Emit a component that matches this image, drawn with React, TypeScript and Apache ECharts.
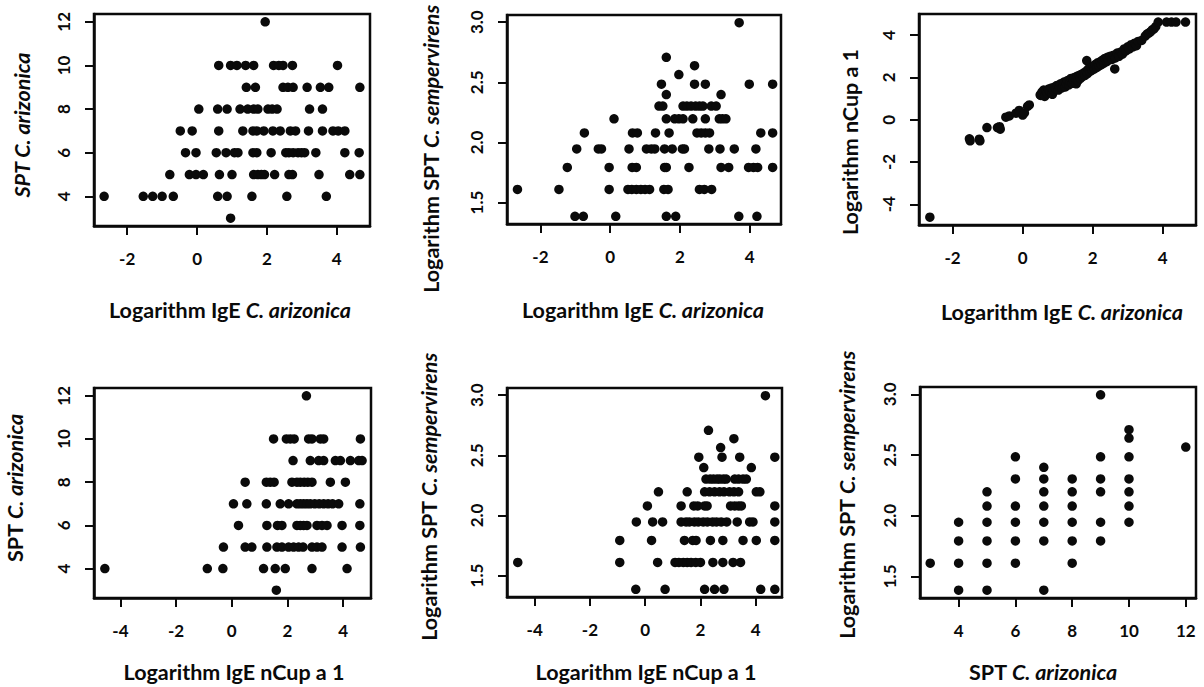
import React, { useEffect, useRef } from "react";
import * as echarts from "echarts";

const FONT = 'Lato, "Open Sans", "DejaVu Sans", sans-serif';

// Panel 1: x = Logarithm IgE C. arizonica, y = SPT C. arizonica
const igeArizVsSptAriz: [number, number][] = [
  [1.95, 12],
  [0.62, 10], [0.96, 10], [1.14, 10], [1.39, 10], [1.62, 10], [2.19, 10], [2.34, 10], [2.46, 10], [2.73, 10], [4.02, 10],
  [1.41, 9], [1.67, 9], [2.46, 9], [2.6, 9], [2.75, 9], [3.15, 9], [3.53, 9], [3.77, 9], [4.66, 9],
  [0.05, 8], [0.59, 8], [0.86, 8], [1.23, 8], [1.45, 8], [1.62, 8], [1.74, 8], [2.03, 8], [2.15, 8], [2.29, 8], [3.22, 8], [3.59, 8],
  [-0.48, 7], [-0.14, 7], [0.62, 7], [1.31, 7], [1.6, 7], [1.71, 7], [1.91, 7], [2.17, 7], [2.38, 7], [2.67, 7], [2.82, 7], [3.19, 7], [3.59, 7], [3.89, 7], [4.04, 7], [4.23, 7],
  [-0.33, 6], [-0.03, 6], [0.55, 6], [0.83, 6], [1.07, 6], [1.17, 6], [1.6, 6], [1.71, 6], [2.12, 6], [2.54, 6], [2.63, 6], [2.75, 6], [2.89, 6], [2.99, 6], [3.08, 6], [3.4, 6], [4.23, 6], [4.64, 6],
  [-0.78, 5], [-0.22, 5], [-0.03, 5], [0.18, 5], [0.64, 5], [1.0, 5], [1.62, 5], [1.74, 5], [1.84, 5], [1.93, 5], [2.22, 5], [2.63, 5], [2.73, 5], [3.49, 5], [4.37, 5], [4.66, 5],
  [-2.66, 4], [-1.54, 4], [-1.27, 4], [-1.0, 4], [-0.68, 4], [0.59, 4], [0.86, 4], [1.57, 4], [2.57, 4], [3.7, 4],
  [0.96, 3],
];

// Panel 2: x = Logarithm IgE C. arizonica, y = Logarithm SPT C. sempervirens
const igeArizVsLogSptSemp: [number, number][] = [
  [3.7, 2.996],
  [1.61, 2.708],
  [2.42, 2.639],
  [1.97, 2.565],
  [1.47, 2.485], [2.42, 2.485], [2.73, 2.485], [3.99, 2.485], [4.66, 2.485],
  [1.61, 2.398], [3.18, 2.398],
  [1.4, 2.303], [1.51, 2.303], [2.09, 2.303], [2.2, 2.303], [2.32, 2.303], [2.45, 2.303], [2.56, 2.303], [2.66, 2.303], [2.9, 2.303], [3.04, 2.303],
  [0.11, 2.197], [1.61, 2.197], [1.85, 2.197], [1.97, 2.197], [2.09, 2.197], [2.37, 2.197], [2.73, 2.197], [3.13, 2.197], [3.22, 2.197], [3.32, 2.197],
  [-0.74, 2.079], [0.64, 2.079], [0.78, 2.079], [1.3, 2.079], [1.69, 2.079], [2.49, 2.079], [2.61, 2.079], [2.73, 2.079], [2.85, 2.079], [4.32, 2.079], [4.66, 2.079],
  [-0.96, 1.946], [-0.34, 1.946], [-0.25, 1.946], [0.54, 1.946], [1.04, 1.946], [1.18, 1.946], [1.28, 1.946], [1.56, 1.946], [1.78, 1.946], [2.07, 1.946], [2.13, 1.946], [2.83, 1.946], [3.15, 1.946], [3.56, 1.946], [4.18, 1.946],
  [-1.23, 1.792], [-0.03, 1.792], [0.63, 1.792], [0.75, 1.792], [1.56, 1.792], [1.61, 1.792], [2.26, 1.792], [3.18, 1.792], [3.4, 1.792], [3.97, 1.792], [4.11, 1.792], [4.23, 1.792], [4.66, 1.792],
  [-2.66, 1.609], [-1.47, 1.609], [-0.03, 1.609], [0.51, 1.609], [0.62, 1.609], [0.75, 1.609], [0.88, 1.609], [1.0, 1.609], [1.13, 1.609], [1.54, 1.609], [1.66, 1.609], [2.56, 1.609], [2.7, 1.609], [2.91, 1.609],
  [-1.01, 1.386], [-0.77, 1.386], [0.16, 1.386], [1.61, 1.386], [1.88, 1.386], [3.69, 1.386], [4.21, 1.386],
];

// Panel 3: x = Logarithm IgE C. arizonica, y = Logarithm nCup a 1
const igeArizVsLogNcup: [number, number][] = [
  [-2.65, -4.61],
  [-1.52, -0.9], [-1.5, -1.0], [-1.24, -0.92], [-1.22, -1.0],
  [-1.02, -0.37], [-0.72, -0.37], [-0.66, -0.33], [-0.64, -0.45],
  [-0.48, 0.12], [-0.38, 0.18], [-0.19, 0.31], [-0.1, 0.44], [0.0, 0.22], [0.05, 0.32],
  [0.14, 0.63], [0.19, 0.7],
  [0.5, 1.18], [0.52, 1.15], [0.55, 1.3], [0.58, 1.22], [0.6, 1.4], [0.63, 1.1], [0.66, 1.35], [0.7, 1.25],
  [0.74, 1.45], [0.78, 1.3], [0.82, 1.5], [0.85, 1.2], [0.88, 1.38], [0.92, 1.55], [0.95, 1.45], [0.98, 1.62],
  [1.02, 1.4], [1.05, 1.55], [1.08, 1.7], [1.12, 1.5], [1.15, 1.62], [1.18, 1.78], [1.22, 1.55], [1.25, 1.7],
  [1.28, 1.85], [1.32, 1.65], [1.35, 1.8], [1.38, 1.95], [1.42, 1.72], [1.45, 1.88], [1.48, 2.0], [1.53, 1.7],
  [1.52, 1.92], [1.55, 2.05], [1.58, 1.85], [1.62, 2.1], [1.65, 1.95], [1.68, 2.15], [1.72, 2.05], [1.75, 2.22],
  [1.78, 2.1], [1.82, 2.3], [1.83, 2.8], [1.85, 2.18], [1.88, 2.4], [1.92, 2.28], [1.95, 2.45], [1.98, 2.35],
  [2.02, 2.55], [2.05, 2.4], [2.08, 2.62], [2.12, 2.48], [2.15, 2.7], [2.18, 2.55], [2.22, 2.75], [2.25, 2.6],
  [2.28, 2.82], [2.32, 2.68], [2.35, 2.9], [2.4, 2.75], [2.42, 2.95], [2.45, 2.82], [2.5, 3.0], [2.55, 2.85],
  [2.63, 2.4], [2.6, 3.05], [2.65, 2.92], [2.7, 3.15], [2.75, 3.0], [2.8, 3.2], [2.85, 3.1], [2.9, 3.35],
  [2.95, 3.25], [3.0, 3.45], [3.05, 3.35], [3.1, 3.55], [3.15, 3.45], [3.2, 3.62], [3.25, 3.5], [3.3, 3.7],
  [3.4, 3.75], [3.5, 3.95], [3.55, 4.05], [3.6, 4.1], [3.65, 4.15], [3.7, 4.25], [3.75, 4.3], [3.8, 4.4],
  [3.87, 4.62], [4.11, 4.62], [4.25, 4.62], [4.38, 4.62], [4.65, 4.62],
];

// Panel 4: x = Logarithm IgE nCup a 1, y = SPT C. arizonica
const igeNcupVsSptAriz: [number, number][] = [
  [2.68, 12],
  [1.5, 10], [1.96, 10], [2.1, 10], [2.24, 10], [2.76, 10], [2.88, 10], [3.18, 10], [3.3, 10], [4.62, 10],
  [2.2, 9], [2.82, 9], [3.12, 9], [3.3, 9], [3.72, 9], [3.9, 9], [4.26, 9], [4.56, 9], [4.68, 9],
  [0.48, 8], [1.24, 8], [1.38, 8], [1.52, 8], [2.16, 8], [2.34, 8], [2.46, 8], [2.6, 8], [2.73, 8], [2.88, 8], [3.54, 8], [4.08, 8],
  [0.06, 7], [0.54, 7], [1.24, 7], [1.74, 7], [2.04, 7], [2.34, 7], [2.46, 7], [2.58, 7], [2.7, 7], [2.82, 7], [2.98, 7], [3.14, 7], [3.3, 7], [3.46, 7], [3.62, 7], [3.84, 7], [4.6, 7],
  [0.24, 6], [1.26, 6], [1.64, 6], [1.8, 6], [2.34, 6], [2.46, 6], [2.58, 6], [2.7, 6], [3.06, 6], [3.24, 6], [3.42, 6], [3.96, 6], [4.6, 6],
  [-0.3, 5], [0.48, 5], [0.72, 5], [1.26, 5], [1.62, 5], [1.8, 5], [2.04, 5], [2.22, 5], [2.4, 5], [2.56, 5], [2.88, 5], [3.06, 5], [3.24, 5], [3.96, 5], [4.62, 5],
  [-4.56, 4], [-0.88, 4], [-0.32, 4], [1.14, 4], [1.56, 4], [1.92, 4], [2.88, 4], [4.14, 4],
  [1.6, 3],
];

// Panel 5: x = Logarithm IgE nCup a 1, y = Logarithm SPT C. sempervirens
const igeNcupVsLogSptSemp: [number, number][] = [
  [4.35, 2.996],
  [2.29, 2.708],
  [3.21, 2.639],
  [2.73, 2.565],
  [1.94, 2.485], [2.78, 2.485], [3.42, 2.485], [4.69, 2.485],
  [2.12, 2.398], [3.84, 2.398],
  [2.2, 2.303], [2.35, 2.303], [2.47, 2.303], [2.6, 2.303], [2.7, 2.303], [2.83, 2.303], [2.93, 2.303], [3.24, 2.303], [3.38, 2.303], [3.54, 2.303], [3.66, 2.303],
  [0.48, 2.197], [1.52, 2.197], [2.15, 2.197], [2.33, 2.197], [2.51, 2.197], [2.69, 2.197], [2.85, 2.197], [3.05, 2.197], [3.21, 2.197], [3.38, 2.197], [4.02, 2.197], [4.15, 2.197],
  [0.08, 2.079], [1.3, 2.079], [1.76, 2.079], [1.9, 2.079], [2.15, 2.079], [2.24, 2.079], [3.09, 2.079], [3.24, 2.079], [3.38, 2.079], [3.48, 2.079], [4.69, 2.079],
  [-0.32, 1.946], [0.27, 1.946], [0.63, 1.946], [1.3, 1.946], [1.48, 1.946], [1.6, 1.946], [1.78, 1.946], [1.92, 1.946], [2.1, 1.946], [2.25, 1.946], [2.44, 1.946], [2.58, 1.946], [2.75, 1.946], [2.95, 1.946], [3.33, 1.946], [3.78, 1.946], [3.9, 1.946], [4.69, 1.946],
  [-0.92, 1.792], [0.23, 1.792], [1.42, 1.792], [1.72, 1.792], [1.84, 1.792], [2.36, 1.792], [2.81, 1.792], [3.54, 1.792], [4.02, 1.792], [4.69, 1.792],
  [-4.61, 1.609], [-0.92, 1.609], [0.45, 1.609], [1.08, 1.609], [1.22, 1.609], [1.38, 1.609], [1.52, 1.609], [1.66, 1.609], [1.83, 1.609], [2.0, 1.609], [2.45, 1.609], [2.81, 1.609], [3.18, 1.609], [3.45, 1.609],
  [-0.34, 1.386], [0.72, 1.386], [2.15, 1.386], [2.51, 1.386], [2.85, 1.386], [4.18, 1.386], [4.69, 1.386],
];

// Panel 6: x = SPT C. arizonica, y = Logarithm SPT C. sempervirens
const sptArizVsLogSptSemp: [number, number][] = [
  [3, 1.609],
  [4, 1.386], [4, 1.609], [4, 1.792], [4, 1.946],
  [5, 1.386], [5, 1.609], [5, 1.792], [5, 1.946], [5, 2.079], [5, 2.197],
  [6, 1.609], [6, 1.792], [6, 1.946], [6, 2.079], [6, 2.303], [6, 2.485],
  [7, 1.386], [7, 1.792], [7, 1.946], [7, 2.079], [7, 2.197], [7, 2.303], [7, 2.398],
  [8, 1.609], [8, 1.792], [8, 1.946], [8, 2.079], [8, 2.197], [8, 2.303],
  [9, 1.792], [9, 1.946], [9, 2.197], [9, 2.303], [9, 2.485], [9, 2.996],
  [10, 1.946], [10, 2.079], [10, 2.197], [10, 2.303], [10, 2.485], [10, 2.639], [10, 2.708],
  [12, 2.565],
];

const ticksLogIge = [-2, 0, 2, 4];
const ticksLogIgeWide = [-4, -2, 0, 2, 4];
const ticksSpt = [4, 6, 8, 10, 12];
const ticksLogSpt = [1.5, 2.0, 2.5, 3.0];
const ticksLogNcup = [-4, -2, 0, 2, 4];

// Axis titles: [text, italic]
type Title = { parts: [string, boolean][] };
const tIgeAriz: Title = { parts: [["Logarithm IgE ", false], ["C. arizonica", true]] };
const tIgeNcup: Title = { parts: [["Logarithm IgE nCup a 1", false]] };
const tSptArizItalic: Title = { parts: [["SPT C. arizonica", true]] };
const tSptAriz: Title = { parts: [["SPT ", false], ["C. arizonica", true]] };
const tLogSptSemp: Title = { parts: [["Logarithm SPT ", false], ["C. sempervirens", true]] };
const tLogNcup: Title = { parts: [["Logarithm nCup a 1", false]] };

const panels = [
  { data: igeArizVsSptAriz, grid: { left: 94, top: 14, width: 276, height: 212 }, x: [-2.95, 4.95], y: [2.64, 12.36], xt: ticksLogIge, yt: ticksSpt, yd: 0, xTitle: tIgeAriz, yTitle: tSptArizItalic, xTitlePos: [230, 310], yTitlePos: [22, 125] },
  { data: igeArizVsLogSptSemp, grid: { left: 507, top: 15, width: 274, height: 209 }, x: [-2.96, 4.9], y: [1.322, 3.06], xt: ticksLogIge, yt: ticksLogSpt, yd: 1, xTitle: tIgeAriz, yTitle: tLogSptSemp, xTitlePos: [643, 310], yTitlePos: [431, 149] },
  { data: igeArizVsLogNcup, grid: { left: 919, top: 14, width: 277, height: 211 }, x: [-2.96, 4.95], y: [-4.98, 5.0], xt: ticksLogIge, yt: ticksLogNcup, yd: 0, xTitle: tIgeAriz, yTitle: tLogNcup, xTitlePos: [1062, 312], yTitlePos: [850, 142] },
  { data: igeNcupVsSptAriz, grid: { left: 94, top: 388, width: 277, height: 210 }, x: [-4.95, 5.0], y: [2.64, 12.36], xt: ticksLogIgeWide, yt: ticksSpt, yd: 0, xTitle: tIgeNcup, yTitle: tSptAriz, xTitlePos: [234, 672], yTitlePos: [15, 488] },
  { data: igeNcupVsLogSptSemp, grid: { left: 507, top: 388, width: 275, height: 209 }, x: [-5.0, 4.95], y: [1.322, 3.06], xt: ticksLogIgeWide, yt: ticksLogSpt, yd: 1, xTitle: tIgeNcup, yTitle: tLogSptSemp, xTitlePos: [646, 672], yTitlePos: [429, 497] },
  { data: sptArizVsLogSptSemp, grid: { left: 920, top: 387, width: 276, height: 211 }, x: [2.64, 12.36], y: [1.322, 3.06], xt: ticksSpt, yt: ticksLogSpt, yd: 1, xTitle: tSptAriz, yTitle: tLogSptSemp, xTitlePos: [1043, 672], yTitlePos: [847, 495] },
];

const TITLE_SIZE = 21.5;
const TICK_SIZE = 17;
const INK = "#0a0a0a";

function titleText(t: Title, x: number, y: number, vertical: boolean) {
  const text = t.parts.map(([s, it]) => `{${it ? "i" : "n"}|${s}}`).join("");
  return {
    type: "text",
    x,
    y,
    rotation: vertical ? Math.PI / 2 : 0,
    silent: true,
    style: {
      text,
      align: "center",
      verticalAlign: "middle",
      fill: INK,
      font: `bold ${TITLE_SIZE}px ${FONT}`,
      rich: {
        n: { fontFamily: FONT, fontSize: TITLE_SIZE, fontWeight: "bold", fill: INK, lineHeight: 22 },
        i: { fontFamily: FONT, fontSize: TITLE_SIZE, fontWeight: "bold", fontStyle: "italic", fill: INK, lineHeight: 22 },
      },
    },
  };
}

export default function App() {
  const ref = useRef<HTMLDivElement>(null);
  useEffect(() => {
    if (!ref.current) return;
    const chart = echarts.init(ref.current, null, { renderer: "svg" });
    const tickStyle = { color: INK, width: 2 };
    const option: any = {
      animation: false,
      backgroundColor: "#fff",
      grid: panels.map((p) => ({ ...p.grid, show: false, containLabel: false })),
      xAxis: panels.map((p, i) => ({
        gridIndex: i,
        type: "value",
        position: "bottom",
        min: p.x[0],
        max: p.x[1],
        axisLine: { show: true, onZero: false, lineStyle: { color: INK, width: 2.5 } },
        splitLine: { show: false },
        axisTick: { show: true, customValues: p.xt, length: 9, lineStyle: tickStyle },
        axisLabel: { customValues: p.xt, margin: 24, fontSize: TICK_SIZE, fontFamily: FONT, fontWeight: "bold", color: INK },
      })),
      yAxis: panels.map((p, i) => ({
        gridIndex: i,
        type: "value",
        position: "left",
        min: p.y[0],
        max: p.y[1],
        axisLine: { show: true, onZero: false, lineStyle: { color: INK, width: 2.5 } },
        splitLine: { show: false },
        axisTick: { show: true, customValues: p.yt, length: 9, lineStyle: tickStyle },
        axisLabel: {
          customValues: p.yt,
          rotate: 90,
          margin: 22,
          fontSize: TICK_SIZE,
          fontFamily: FONT,
          fontWeight: "bold",
          color: INK,
          formatter: (v: number) => v.toFixed(p.yd),
        },
      })),
      series: panels.map((p, i) => ({
        type: "scatter",
        xAxisIndex: i,
        yAxisIndex: i,
        data: p.data,
        symbol: "circle",
        symbolSize: 9.5,
        itemStyle: { color: INK, opacity: 1 },
      })),
      graphic: panels.flatMap((p) => [
        {
          type: "rect",
          silent: true,
          shape: { x: p.grid.left, y: p.grid.top, width: p.grid.width, height: p.grid.height },
          style: { fill: "none", stroke: INK, lineWidth: 2.5 },
        },
        titleText(p.xTitle, p.xTitlePos[0], p.xTitlePos[1], false),
        titleText(p.yTitle, p.yTitlePos[0], p.yTitlePos[1], true),
      ]),
    };
    chart.setOption(option);
    return () => chart.dispose();
  }, []);
  return <div ref={ref} style={{ position: "absolute", left: 0, top: 0, width: 1204, height: 687, background: "#fff" }} />;
}
